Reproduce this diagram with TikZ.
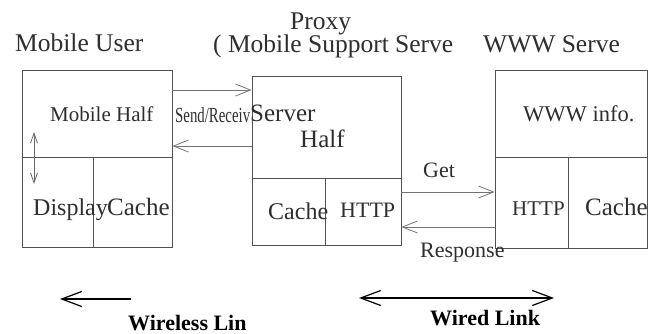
\documentclass[tikz,border=0pt]{standalone}
\usepackage{fontspec}
\setmainfont{Liberation Serif}
\usetikzlibrary{arrows.meta}
\begin{document}
\begin{tikzpicture}[x=1pt,y=-1pt,
  box/.style={draw=black!68, line width=0.9pt, rectangle, inner sep=0pt},
  divider/.style={draw=black!68, line width=0.9pt},
  lbl/.style={anchor=base west, inner sep=0pt, text=black!82},
  title/.style={lbl, font=\fontsize{25.5}{30}\selectfont},
  flow/.style={draw=black!55, line width=0.8pt, -{Straight Barb[length=15pt,width=12pt,line width=0.8pt]}},
  updown/.style={draw=black!60, line width=0.8pt, {Straight Barb[length=10pt,width=7pt]}-{Straight Barb[length=10pt,width=7pt]}},
  link/.style={draw=black, line width=1.2pt, -{Straight Barb[length=20pt,width=15pt,line width=1.2pt]}},
  linkboth/.style={draw=black, line width=1.2pt, {Straight Barb[length=20pt,width=15pt,line width=1.2pt]}-{Straight Barb[length=20pt,width=15pt,line width=1.2pt]}},
  caption/.style={lbl, text=black, font=\bfseries\fontsize{22}{26}\selectfont}
]
\useasboundingbox (0,0) rectangle (659,334);

% titles
\node[title] (tmu) at (15,52) {Mobile User};
\node[title] (tpx1) at (290,30) {Proxy};
\node[title] (tpx2) at (213,53) {( Mobile Support Serve};
\node[title] (tws) at (483,53) {WWW Serve};

% the three machines
\node[box, minimum width=150pt, minimum height=177pt] (mu) at (97,158.5) {};
\node[box, minimum width=149pt, minimum height=169pt] (px) at (326.5,160.5) {};
\node[box, minimum width=152pt, minimum height=178pt] (ws) at (571,159) {};

% internal partitions
\draw[divider] (mu.west |- 0,157) -- (mu.east |- 0,157);
\draw[divider] (93,157) -- (mu.south -| 93,0);
\draw[divider] (px.west |- 0,178) -- (px.east |- 0,178);
\draw[divider] (325,178) -- (px.south -| 325,0);
\draw[divider] (ws.west |- 0,157) -- (ws.east |- 0,157);
\draw[divider] (568,157) -- (ws.south -| 568,0);

% texts inside the boxes
\node[lbl, font=\fontsize{21}{25}\selectfont] (mh) at (50,122) {Mobile Half};
\node[lbl, font=\fontsize{24}{28}\selectfont] (dsp) at (33,215) {Display};
\node[lbl, font=\fontsize{25}{28}\selectfont] (mc) at (107,215) {Cache};
\node[lbl, font=\fontsize{25}{30}\selectfont] (sv1) at (250,122) {Server};
\node[lbl, font=\fontsize{25}{30}\selectfont] (sv2) at (300,148) {Half};
\node[lbl, font=\fontsize{24}{28}\selectfont] (pc) at (268,219) {Cache};
\node[lbl, font=\fontsize{22}{26}\selectfont] (ph) at (340,217) {HTTP};
\node[lbl, font=\fontsize{22.5}{26}\selectfont] (wi) at (523,122) {WWW info.};
\node[lbl, font=\fontsize{21}{25}\selectfont] (wh) at (512,215) {HTTP};
\node[lbl, font=\fontsize{25}{28}\selectfont] (wc) at (585,215) {Cache};

% messages between the machines
\node[lbl, font=\fontsize{21.5}{25}\selectfont] (sr) at (175,123) {\scalebox{0.69}[1]{Send/Receiv}};
\draw[flow] (mu.east |- 0,90) -- (px.west |- 0,90);
\draw[flow] (px.west |- 0,146) -- (mu.east |- 0,146);
\node[lbl, font=\fontsize{22}{26}\selectfont] (get) at (423,178) {Get};
\draw[flow] (px.east |- 0,192) -- (ws.west |- 0,192);
\draw[flow] (ws.west |- 0,227) -- (px.east |- 0,227);
\node[lbl, font=\fontsize{22}{26}\selectfont] (rsp) at (420,257) {Response};

% display <-> mobile half
\coordinate (ud1) at (34,132);
\coordinate (ud2) at (34,184);
\draw[updown] (ud1) -- (ud2);

% link legend
\coordinate (wl1) at (131,299);
\coordinate (wl2) at (60,299);
\draw[link] (wl1) -- (wl2);
\node[caption] (wlt) at (128,330) {Wireless Lin};
\coordinate (wd1) at (359,298);
\coordinate (wd2) at (554,298);
\draw[linkboth] (wd1) -- (wd2);
\node[caption] (wdt) at (430,325) {Wired Link};
\end{tikzpicture}
\end{document}
